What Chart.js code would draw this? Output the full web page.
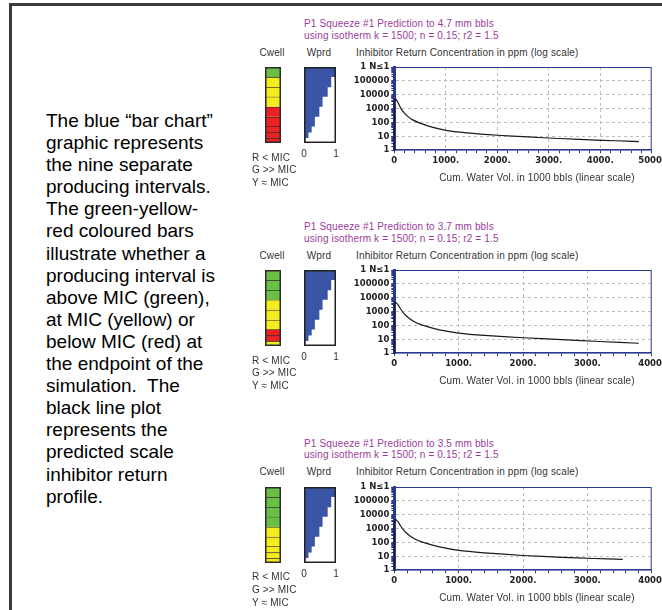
<!DOCTYPE html>
<html>
<head>
<meta charset="utf-8">
<script src="https://cdn.jsdelivr.net/npm/chart.js@4.4.0/dist/chart.umd.min.js"></script>
<style>
  html, body { margin: 0; padding: 0; background: #fff; overflow: hidden; }
  body { width: 662px; height: 610px; position: relative; font-family: "Liberation Sans", Arial, sans-serif; }
  #frame { position: absolute; left: 9px; top: 3px; width: 700px; height: 700px;
           border-left: 3px solid #3a3a3a; border-top: 3px solid #3a3a3a; }
  #note { position: absolute; left: 46px; top: 110px; font-size: 19px; line-height: 22.1px; color: #000; white-space: nowrap; }
  .t { position: absolute; font-size: 10px; letter-spacing: 0.15px; line-height: 12px; white-space: nowrap; color: #333; }
  .ttl { color: #9b3c9b; }
  canvas { position: absolute; }
</style>
</head>
<body>
<div id="frame"></div>
<div id="note">The blue “bar chart”<br>graphic represents<br>the nine separate<br>producing intervals.<br>The green-yellow-<br>red coloured bars<br>illustrate whether a<br>producing interval is<br>above MIC (green),<br>at MIC (yellow) or<br>below MIC (red) at<br>the endpoint of the<br>simulation.&nbsp; The<br>black line plot<br>represents the<br>predicted scale<br>inhibitor return<br>profile.</div>
<script>
// nine producing intervals, top to bottom
var intervalThick = [10, 10, 9.5, 10, 10, 9.5, 6, 5.5, 5];
var wprdFrac = [1.0, 0.85, 0.74, 0.58, 0.48, 0.34, 0.24, 0.14, 0.05];

// Cwell status per interval (G >> MIC, Y = MIC, R < MIC)
var cwell1 = ['G', 'Y', 'Y', 'Y', 'R', 'R', 'R', 'R', 'R'];
var cwell2 = ['G', 'G', 'G', 'Y', 'Y', 'Y', 'R', 'R', 'Y'];
var cwell3 = ['G', 'G', 'G', 'G', 'Y', 'Y', 'Y', 'Y', 'Y'];

// return curves: cum. water vol (1000 bbls) vs concentration (ppm)
var vol1  = [0, 0, 25, 60, 90, 130, 180, 250, 350, 500, 700, 1000, 1400, 2000, 2600, 3200, 3800, 4300, 4750];
var conc1 = [1, 4000, 5000, 3300, 2000, 1000, 550, 300, 160, 90, 50, 27, 18, 12, 9, 7, 5.6, 4.8, 4.2];
var vol2  = [0, 0, 25, 60, 90, 130, 180, 250, 350, 500, 700, 1000, 1400, 2000, 2600, 3200, 3800];
var conc2 = [1, 3500, 4500, 3000, 1800, 950, 520, 280, 150, 85, 48, 28, 19, 13, 9.5, 7, 5.2];
var vol3  = [0, 0, 25, 60, 90, 130, 180, 250, 350, 500, 700, 1000, 1400, 2000, 2600, 3100, 3550];
var conc3 = [1, 3500, 4500, 3000, 1800, 950, 520, 280, 150, 85, 48, 27, 18, 11.5, 8.5, 7, 6];

var titles = ['P1 Squeeze #1 Prediction to 4.7 mm bbls',
              'P1 Squeeze #1 Prediction to 3.7 mm bbls',
              'P1 Squeeze #1 Prediction to 3.5 mm bbls'];
var isoText = 'using isotherm k = 1500; n = 0.15; r2 = 1.5';
var yTickLabels = ['1', '10', '100', '1000', '10000', '100000', '1 N\u22641'];
var xTickLabels1 = ['0', '1000.', '2000.', '3000.', '4000.', '5000.'];
var xTickLabels2 = ['0', '1000.', '2000.', '3000.', '4000.'];
var legendText = ['R < MIC', 'G >> MIC', 'Y \u2248 MIC'];

var navy = '#2b3990';
var statusColor = { G: '#6abf46', Y: '#f4ec1c', R: '#ed2024' };
var totalDepth = intervalThick.reduce(function(a, b) { return a + b; }, 0);

// draws a box round the chart area
Chart.register({
  id: 'frame',
  beforeDatasetsDraw: function(chart, args, opts) { if (opts.color && !opts.over) box(chart, opts); },
  afterDatasetsDraw: function(chart, args, opts) { if (opts.color && opts.over) box(chart, opts); }
});
function box(chart, opts) {
  var a = chart.chartArea, ctx = chart.ctx, w = opts.width || 1;
  ctx.save();
  ctx.strokeStyle = opts.color;
  ctx.lineWidth = w;
  ctx.strokeRect(a.left + w / 2, a.top + w / 2, a.right - a.left - w, a.bottom - a.top - w);
  ctx.restore();
}

function addCanvas(x, y, w, h) {
  var c = document.createElement('canvas');
  c.width = w; c.height = h;
  c.style.left = x + 'px'; c.style.top = y + 'px';
  document.body.appendChild(c);
  return c;
}

function txt(x, yc, str, cls, center) {
  var d = document.createElement('div');
  d.className = 't' + (cls ? ' ' + cls : '');
  d.textContent = str;
  d.style.left = x + 'px';
  d.style.top = (yc - 6) + 'px';
  if (center) d.style.transform = 'translateX(-50%)';
  document.body.appendChild(d);
}

function cwellChart(T, status) {
  new Chart(addCanvas(265, T, 16, 76), {
    type: 'bar',
    data: {
      labels: [''],
      datasets: intervalThick.map(function(t, i) {
        return { data: [t], backgroundColor: statusColor[status[i]], borderColor: '#2b2b2b',
                 borderWidth: { top: 1, left: 0, right: 0, bottom: 0 }, borderSkipped: false,
                 barPercentage: 1, categoryPercentage: 1 };
      })
    },
    options: {
      responsive: false, animation: false,
      plugins: { legend: { display: false }, tooltip: { enabled: false },
                 frame: { color: '#2b2b2b', width: 1.5, over: true } },
      scales: {
        x: { stacked: true, display: false },
        y: { stacked: true, display: false, reverse: true, min: 0, max: totalDepth }
      }
    }
  });
}

function wprdChart(T) {
  var pts = [], d = 0;
  for (var i = 0; i < intervalThick.length; i++) {
    pts.push({ x: wprdFrac[i], y: d });
    d += intervalThick[i];
    pts.push({ x: wprdFrac[i], y: d });
  }
  new Chart(addCanvas(296, T, 48, 92), {
    type: 'line',
    data: { datasets: [{ data: pts, fill: 'origin', backgroundColor: '#3a55a5',
                         borderColor: 'rgba(0,0,0,0)', borderWidth: 1, pointRadius: 0, tension: 0 }] },
    options: {
      indexAxis: 'y', responsive: false, animation: false,
      layout: { padding: { left: 8, right: 8, top: 0, bottom: 0 } },
      plugins: { legend: { display: false }, tooltip: { enabled: false },
                 frame: { color: '#222', width: 1.5, over: true } },
      scales: {
        x: { type: 'linear', min: 0, max: 1,
             afterBuildTicks: function(s) { s.ticks = [{ value: 0 }, { value: 1 }]; },
             afterFit: function(s) { s.height = 16; },
             grid: { display: false, drawTicks: false }, border: { display: false },
             ticks: { padding: 5, color: '#333', font: { family: 'Liberation Sans', size: 10 } } },
        y: { type: 'linear', min: 0, max: totalDepth, reverse: true, display: false }
      }
    }
  });
}

function logChart(T, vol, conc, xmax, xLabels) {
  var H = 110;
  var pts = vol.map(function(v, i) { return { x: v, y: conc[i] }; });
  var tickFont = { family: 'DejaVu Sans', size: 8.5, weight: 'bold' };
  new Chart(addCanvas(340, T - 8, 330, H), {
    type: 'line',
    data: { datasets: [{ data: pts, borderColor: '#1a1a1a', borderWidth: 1.2, pointRadius: 0,
                         tension: 0.25, fill: false, clip: false }] },
    options: {
      responsive: false, animation: false,
      layout: { padding: { top: 8, right: 18.3, left: 0, bottom: 0 } },
      plugins: { legend: { display: false }, tooltip: { enabled: false },
                 frame: { color: navy, width: 1 } },
      scales: {
        x: { type: 'linear', min: 0, max: xmax,
             afterBuildTicks: function(s) {
               var t = [];
               for (var v = 0; v <= xmax; v += 200) t.push({ value: v });
               s.ticks = t;
             },
             afterFit: function(s) { s.height = H - 8 - 83.2; },
             ticks: { autoSkip: false, maxRotation: 0, padding: 2, color: '#222', font: tickFont,
                      callback: function(v) { return v % 1000 === 0 ? xLabels[v / 1000] : ''; } },
             grid: { color: function(c) {
                       var v = c.tick ? c.tick.value : 0;
                       return (v % 1000 === 0 && v > 0 && v < xmax) ? '#bdbdbd' : 'rgba(0,0,0,0)';
                     },
                     tickColor: navy, tickLength: 3, tickBorderDash: [] },
             border: { color: navy, width: 1.5, dash: [3, 3] } },
        y: { type: 'logarithmic', min: 1, max: 1e6,
             afterBuildTicks: function(s) {
               var t = [];
               for (var k = 0; k < 6; k++) for (var m = 1; m < 10; m++) t.push({ value: m * Math.pow(10, k) });
               t.push({ value: 1e6 });
               s.ticks = t;
             },
             afterFit: function(s) { s.width = 54.3; },
             ticks: { autoSkip: false, padding: 2, color: '#222', font: tickFont,
                      callback: function(v) {
                        var k = Math.log10(v), r = Math.round(k);
                        return Math.abs(k - r) < 1e-9 ? yTickLabels[r] : '';
                      } },
             grid: { color: function(c) {
                       var v = c.tick ? c.tick.value : 1;
                       var k = Math.log10(v);
                       return (Math.abs(k - Math.round(k)) < 1e-9 && v > 1 && v < 1e6) ? '#bdbdbd' : 'rgba(0,0,0,0)';
                     },
                     tickColor: navy, tickLength: 3, tickBorderDash: [] },
             border: { color: navy, width: 3, dash: [3, 3] } }
      }
    }
  });
}

function panel(T, idx, status, vol, conc, xmax, xLabels) {
  txt(304, T - 43, titles[idx], 'ttl');
  txt(304, T - 31.8, isoText, 'ttl');
  txt(272, T - 14.8, 'Cwell', '', true);
  txt(319, T - 14.8, 'Wprd', '', true);
  txt(356, T - 14.8, 'Inhibitor Return Concentration in ppm (log scale)');
  cwellChart(T, status);
  wprdChart(T);
  logChart(T, vol, conc, xmax, xLabels);
  txt(252, T + 90.3, legendText[0]);
  txt(252, T + 103, legendText[1]);
  txt(252, T + 115.5, legendText[2]);
  txt(537, T + 111, 'Cum. Water Vol. in 1000 bbls (linear scale)', '', true);
}

panel(67.3, 0, cwell1, vol1, conc1, 5000, xTickLabels1);
panel(270.3, 1, cwell2, vol2, conc2, 4000, xTickLabels2);
panel(487, 2, cwell3, vol3, conc3, 4000, xTickLabels2);
</script>
</body>
</html>
